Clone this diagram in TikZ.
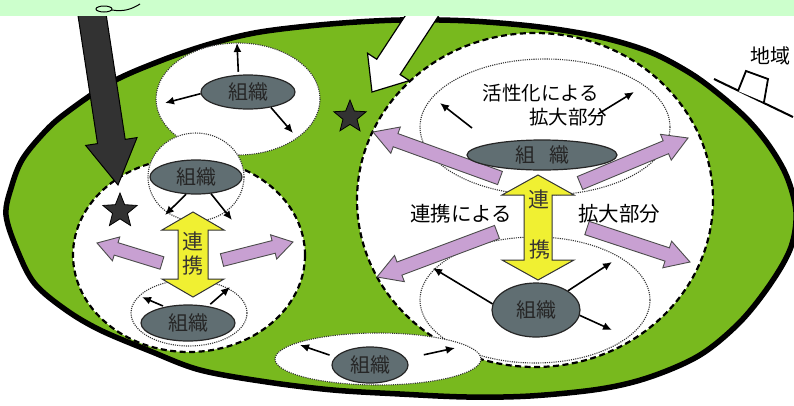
\documentclass[tikz,border=0pt]{standalone}
\usepackage{fontspec}
\newfontfamily\jp{Noto Sans CJK JP}
\usetikzlibrary{shapes.geometric,arrows.meta,calc}
\definecolor{band}{RGB}{204,255,204}
\definecolor{field}{RGB}{120,185,30}
\definecolor{orggray}{RGB}{96,110,114}
\definecolor{lilac}{RGB}{200,160,210}
\definecolor{yel}{RGB}{240,240,50}
\definecolor{darkarr}{RGB}{50,50,50}
\newcommand{\fatarrow}[6]{%
 \coordinate (fah) at ($(#3)!#6!(#2)$);
 \draw[#1] ($(#2)!#4!90:(#3)$) -- ($(fah)!#4!90:(#3)$) -- ($(fah)!#5!90:(#3)$) -- (#3) -- ($(fah)!#5!-90:(#3)$) -- ($(fah)!#4!-90:(#3)$) -- ($(#2)!#4!-90:(#3)$) -- cycle;}
\newcommand{\dblarrow}[6]{%
 \coordinate (dha) at ($(#2)!#6!(#3)$);
 \coordinate (dhb) at ($(#3)!#6!(#2)$);
 \draw[#1] (#2) -- ($(dha)!#5!90:(#3)$) -- ($(dha)!#4!90:(#3)$) -- ($(dhb)!#4!-90:(#2)$) -- ($(dhb)!#5!-90:(#2)$) -- (#3) -- ($(dhb)!#5!90:(#2)$) -- ($(dhb)!#4!90:(#2)$) -- ($(dha)!#4!-90:(#3)$) -- ($(dha)!#5!-90:(#3)$) -- cycle;}
\begin{document}
\begin{tikzpicture}[x=1pt,y=-1pt,
  thinarr/.style={line width=1.6pt,-{Latex[length=9pt,width=8pt]}},
  dotb/.style={draw=black!80,line width=1.1pt,dash pattern=on 1.1pt off 1.1pt},
  dashb/.style={draw=black,line width=2.2pt,dash pattern=on 6pt off 3.5pt},
  org/.style={ellipse,fill=orggray,draw=black!85,line width=1.2pt,inner sep=0pt,
    font=\jp\fontsize{20}{22}\selectfont,text=black!85},
  lbl/.style={inner sep=0pt,font=\jp\fontsize{19.5}{22}\selectfont},
  lbltwo/.style={inner sep=0pt,font=\jp\fontsize{20.5}{22}\selectfont},
  ylbl/.style={inner sep=0pt,font=\jp\fontsize{21}{22}\selectfont,text=black!75!yellow!40!black},
  purp/.style={fill=lilac,draw=black!70,line width=0.9pt},
  yarr/.style={fill=yel,draw=black!80,line width=1pt},
  stardeco/.style={star,star points=5,star point ratio=2.3,fill=darkarr,draw=black,line width=0.8pt,minimum size=36pt,inner sep=0pt}]
\useasboundingbox (0,0) rectangle (794,405);
% field
\draw[line width=5.5pt,fill=field] plot[smooth cycle,tension=0.55] coordinates {
 (6,215) (12,185) (22,160) (40,137) (62,116) (110,83) (160,61) (210,44) (260,32)
 (330,24) (400,20) (470,21) (540,27) (600,37) (650,52) (690,73) (720,95) (748,120)
 (770,147) (787,177) (796,212) (791,247) (771,283) (740,322) (700,355) (650,377)
 (600,389) (530,396) (467,397) (400,394) (333,390) (267,382) (200,370) (150,351)
 (100,330) (66,310) (35,284) (18,252)};
% big dashed areas
\draw[dashb,fill=white] (535,200) ellipse [x radius=178,y radius=167];
\draw[dashb,fill=white] (189,255) ellipse [x radius=116,y radius=97];
% dotted areas
\draw[dotb,fill=white] (238,99) ellipse [x radius=82,y radius=56];
\draw[dotb,fill=white] (196,177) ellipse [x radius=48,y radius=44];
\draw[dotb,fill=white] (189,313) ellipse [x radius=58,y radius=33];
\draw[dotb] (545,127) ellipse [x radius=125,y radius=68];
\draw[dotb] (535,300) ellipse [x radius=115,y radius=63];
\draw[dotb,fill=white] (378,359) ellipse [x radius=103,y radius=26];
% coordinates
\coordinate (pl1) at (162,263); \coordinate (pl2) at (97,243);
\coordinate (pr1) at (222,260); \coordinate (pr2) at (293,242);
\coordinate (pa1) at (500,178); \coordinate (pa2) at (373,132);
\coordinate (pb1) at (580,183); \coordinate (pb2) at (688,138);
\coordinate (pc1) at (497,232); \coordinate (pc2) at (377,277);
\coordinate (pd1) at (587,228); \coordinate (pd2) at (690,262);
\coordinate (ya1) at (193,212); \coordinate (ya2) at (193,297);
\coordinate (yb1) at (538,175); \coordinate (yb2) at (538,280);
% purple arrows
\fatarrow{purp}{pl1}{pl2}{6.5pt}{12.5pt}{20pt}
\fatarrow{purp}{pr1}{pr2}{6.5pt}{12.5pt}{20pt}
\fatarrow{purp}{pa1}{pa2}{7pt}{14pt}{24pt}
\fatarrow{purp}{pb1}{pb2}{7pt}{14pt}{24pt}
\fatarrow{purp}{pc1}{pc2}{7pt}{14pt}{24pt}
\fatarrow{purp}{pd1}{pd2}{7pt}{14pt}{24pt}
% yellow arrows
\dblarrow{yarr}{ya1}{ya2}{15pt}{31pt}{18pt}
\dblarrow{yarr}{yb1}{yb2}{14pt}{36pt}{20pt}
\node[ylbl] (y1) at (193,241) {連};
\node[ylbl] (y2) at (193,266) {携};
\node[ylbl] (y3) at (539,199) {連};
\node[ylbl] (y4) at (540,250) {携};
% organisations
\node[org,minimum width=94pt,minimum height=34pt] (o1) at (248,92) {組織};
\node[org,minimum width=92pt,minimum height=34pt] (o2) at (196,177) {組織};
\node[org,minimum width=94pt,minimum height=36pt] (o3) at (188,323) {組織};
\node[org,minimum width=76pt,minimum height=36pt] (o4) at (370,365) {組織};
\node[org,minimum width=150pt,minimum height=30pt] (o5) at (542,155) {組\hspace{14pt}織};
\node[org,minimum width=88pt,minimum height=54pt] (o6) at (536,310) {組織};
% thin arrows
\coordinate (e11) at (237,43); \coordinate (e12) at (165,103); \coordinate (e13) at (293,133);
\coordinate (e21) at (165,215); \coordinate (e22) at (232,220);
\coordinate (e31) at (142,297); \coordinate (e32) at (230,287);
\coordinate (e41) at (300,345); \coordinate (e42) at (455,348);
\coordinate (s51) at (472,128); \coordinate (e51) at (440,103);
\coordinate (s52) at (598,114); \coordinate (e52) at (634,92);
\coordinate (e61) at (433,268); \coordinate (e62) at (612,262); \coordinate (e63) at (612,330);
\draw[thinarr,shorten <=3pt] (o1.119) -- (e11);
\draw[thinarr] (o1.182) -- (e12);
\draw[thinarr] (o1.326) -- (e13);
\draw[thinarr] (o2.240) -- (e21);
\draw[thinarr] (o2.312) -- (e22);
\draw[thinarr,shorten <=2pt] (o3.145) -- (e31);
\draw[thinarr,shorten <=3pt] (o3.40) -- (e32);
\draw[thinarr,shorten <=6pt] (o4.167) -- (e41);
\draw[thinarr,shorten <=18pt] (o4.10) -- (e42);
\draw[thinarr] (s51) -- (e51);
\draw[thinarr] (s52) -- (e52);
\draw[thinarr] (o6.172) -- (e61);
\draw[thinarr] (o6.31) -- (e62);
\draw[thinarr] (o6.353) -- (e63);
% texts
\node[lbl] (t1) at (541,93) {活性化による};
\node[lbl] (t2) at (568,117) {拡大部分};
\node[lbltwo] (t3) at (461,214) {連携による};
\node[lbltwo] (t4) at (619,214) {拡大部分};
% stars
\node[stardeco] (star1) at (120,211) {};
\node[stardeco,minimum size=34pt] (star2) at (350,117) {};
% big arrows
\coordinate (da1) at (91,8); \coordinate (da2) at (118,185);
\fatarrow{fill=darkarr,draw=black,line width=1pt}{da1}{da2}{14pt}{26pt}{44pt}
\coordinate (wa1) at (427,8); \coordinate (wa2) at (372,92);
\fatarrow{fill=white,draw=black,line width=1.2pt}{wa1}{wa2}{14pt}{25pt}{30pt}
% band
\fill[band] (0,0) rectangle (794,16);
\draw[line width=1pt] (104,9) ellipse [x radius=8,y radius=3];
\coordinate (sq1) at (112,10); \coordinate (sq2) at (140,4);
\draw[line width=1pt] (sq1) .. controls (124,12) and (132,9) .. (sq2);
% region sign
\node[lbl,font=\jp\fontsize{20}{22}\selectfont] (t5) at (770,56) {地域};
\coordinate (rl1) at (714,79); \coordinate (rl2) at (793,117);
\draw[line width=2pt] (rl1) -- (rl2);
\draw[line width=1.8pt,fill=white] (738,91) -- (746,71) -- (768,79) -- (764,102);
\end{tikzpicture}
\end{document}
